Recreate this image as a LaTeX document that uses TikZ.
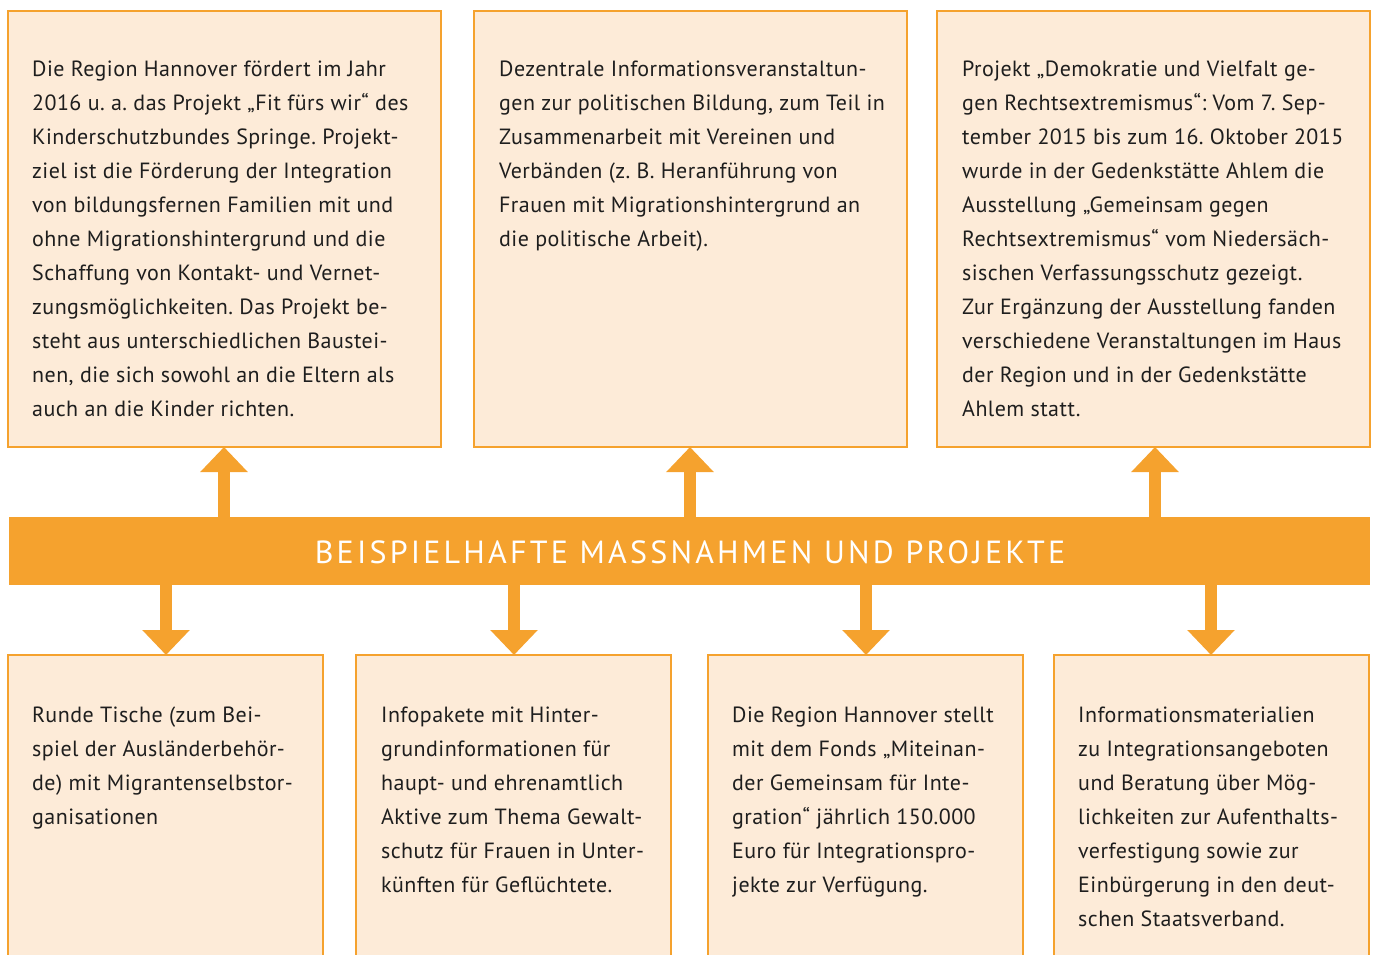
\documentclass[tikz,border=0pt]{standalone}
\usepackage{fontspec}
\setmainfont{PT Sans}
\newfontfamily\bodyfont[LetterSpace=2]{PT Sans}
\newfontfamily\banfont[LetterSpace=10]{PT Sans}
\usetikzlibrary{arrows.meta}
\frenchspacing
\definecolor{orng}{RGB}{245,162,46}
\definecolor{pale}{RGB}{253,235,216}
\definecolor{txt}{RGB}{30,30,30}
\tikzset{
  box/.style={draw=orng, line width=2pt, fill=pale, anchor=north west, inner sep=0pt, outer sep=0pt},
  btxt/.style={anchor=north west, inner sep=0pt, align=left, text=txt, font=\frenchspacing\bodyfont\fontsize{22}{34}\selectfont},
  banner/.style={fill=orng, anchor=north west, inner sep=0pt, outer sep=0pt, minimum width=1361pt, minimum height=68pt},
  conn/.style={draw=orng, line width=12pt, -{Triangle[width=46pt,length=25pt]}, shorten >=0pt}
}
\begin{document}
\begin{tikzpicture}[x=1pt,y=-1pt]
\useasboundingbox (0,0) rectangle (1378,954);
\clip (0,0) rectangle (1378,954);
% top boxes
\node[box, minimum width=433pt, minimum height=436pt] (t1) at (8,11) {};
\node[box, minimum width=433pt, minimum height=436pt] (t2) at (474,11) {};
\node[box, minimum width=433pt, minimum height=436pt] (t3) at (937,11) {};
% banner
\node[banner] (ban) at (9,517) {};
\node[text=white, font=\banfont\fontsize{32}{36}\selectfont, inner sep=0pt] (bantxt) at (690,552) {BEISPIELHAFTE MASSNAHMEN UND PROJEKTE};
% bottom boxes
\node[box, minimum width=315pt, minimum height=330pt] (b1) at (8,655) {};
\node[box, minimum width=315pt, minimum height=330pt] (b2) at (356,655) {};
\node[box, minimum width=315pt, minimum height=330pt] (b3) at (708,655) {};
\node[box, minimum width=315pt, minimum height=330pt] (b4) at (1054,655) {};
% arrows up
\draw[conn] (ban.north -| 224,0) -- (t1.south -| 224,0);
\draw[conn] (ban.north -| 690,0) -- (t2.south -| 690,0);
\draw[conn] (ban.north -| 1155,0) -- (t3.south -| 1155,0);
% arrows down
\draw[conn] (ban.south -| 166,0) -- (b1.north -| 166,0);
\draw[conn] (ban.south -| 514,0) -- (b2.north -| 514,0);
\draw[conn] (ban.south -| 866,0) -- (b3.north -| 866,0);
\draw[conn] (ban.south -| 1211,0) -- (b4.north -| 1211,0);
% texts top
\node[btxt] (t1t) at (32,61) {Die Region Hannover fördert im Jahr\\2016 u. a. das Projekt „Fit fürs wir“ des\\Kinderschutzbundes Springe. Projekt-\\ziel ist die Förderung der Integration\\von bildungsfernen Familien mit und\\ohne Migrationshintergrund und die\\Schaffung von Kontakt- und Vernet-\\zungsmöglichkeiten. Das Projekt be-\\steht aus unterschiedlichen Baustei-\\nen, die sich sowohl an die Eltern als\\auch an die Kinder richten.};
\node[btxt] (t2t) at (499,61) {Dezentrale Informationsveranstaltun-\\gen zur politischen Bildung, zum Teil in\\Zusammenarbeit mit Vereinen und\\Verbänden (z. B. Heranführung von\\Frauen mit Migrationshintergrund an\\die politische Arbeit).};
\node[btxt] (t3t) at (962,61) {Projekt „Demokratie und Vielfalt ge-\\gen Rechtsextremismus“: Vom 7. Sep-\\tember 2015 bis zum 16. Oktober 2015\\wurde in der Gedenkstätte Ahlem die\\Ausstellung „Gemeinsam gegen\\Rechtsextremismus“ vom Niedersäch-\\sischen Verfassungsschutz gezeigt.\\Zur Ergänzung der Ausstellung fanden\\verschiedene Veranstaltungen im Haus\\der Region und in der Gedenkstätte\\Ahlem statt.};
% texts bottom
\node[btxt] (b1t) at (32,707) {Runde Tische (zum Bei-\\spiel der Ausländerbehör-\\de) mit Migrantenselbstor-\\ganisationen};
\node[btxt] (b2t) at (381,707) {Infopakete mit Hinter-\\grundinformationen für\\haupt- und ehrenamtlich\\Aktive zum Thema Gewalt-\\schutz für Frauen in Unter-\\künften für Geflüchtete.};
\node[btxt] (b3t) at (732,707) {Die Region Hannover stellt\\mit dem Fonds „Miteinan-\\der Gemeinsam für Inte-\\gration“ jährlich 150.000\\Euro für Integrationspro-\\jekte zur Verfügung.};
\node[btxt] (b4t) at (1078,707) {Informationsmaterialien\\zu Integrationsangeboten\\und Beratung über Mög-\\lichkeiten zur Aufenthalts-\\verfestigung sowie zur\\Einbürgerung in den deut-\\schen Staatsverband.};
\end{tikzpicture}
\end{document}
